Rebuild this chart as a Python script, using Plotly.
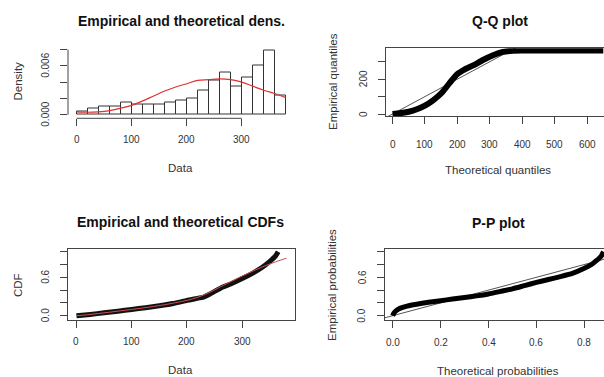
import plotly.graph_objects as go

W, H = 604, 377

# ---------------- data ----------------
bin_left = [0, 20, 40, 60, 80, 100, 120, 140, 160, 180, 200, 220, 240, 260, 280, 300, 320, 340, 360]
bin_width = 20
hist_density = [0.00045, 0.00075, 0.00095, 0.00095, 0.00145, 0.0012, 0.0012, 0.0012, 0.0015, 0.0017,
                0.0020, 0.0030, 0.0042, 0.0052, 0.0035, 0.0046, 0.0060, 0.0079, 0.0024]

dens_x = [0, 20, 40, 60, 80, 100, 120, 140, 160, 180, 200, 220, 240, 260, 280, 300, 320, 340, 360, 380]
dens_theo = [0.00035, 0.0003, 0.00035, 0.0005, 0.0008, 0.00115, 0.0017, 0.0023, 0.0029, 0.0034,
             0.0038, 0.0042, 0.0043, 0.0044, 0.0043, 0.0040, 0.0035, 0.0030, 0.0026, 0.0021]

qq_theo = [0, 22, 50, 75, 100, 126, 152, 177, 200, 223, 249, 279, 310, 340, 371, 402, 450, 500, 550, 600, 650]
qq_emp = [0, 4, 13, 27, 48, 80, 122, 180, 229, 256, 279, 310, 337, 356, 363, 364, 364, 364, 364, 364, 364]
qq_ref = [-100, 1000]

ecdf_x = [0, 25, 50, 75, 100, 125, 150, 175, 200, 215, 230, 240, 250, 265, 280, 300, 320, 335, 350, 360, 365]
ecdf_y = [0, 0.02, 0.045, 0.07, 0.098, 0.125, 0.155, 0.19, 0.24, 0.265, 0.29, 0.33, 0.38, 0.45, 0.5,
          0.58, 0.67, 0.75, 0.85, 0.93, 1.0]
tcdf_x = [0, 20, 40, 60, 80, 100, 120, 140, 160, 180, 200, 220, 240, 260, 280, 300, 320, 340, 360, 380]
tcdf_y = [0.0, 0.015, 0.035, 0.055, 0.077, 0.098, 0.12, 0.145, 0.172, 0.205, 0.24, 0.29, 0.36, 0.45,
          0.535, 0.62, 0.70, 0.775, 0.84, 0.9]

pp_theo = [0.0, 0.005, 0.015, 0.03, 0.06, 0.1, 0.15, 0.2, 0.25, 0.3, 0.35, 0.4, 0.45, 0.5, 0.55, 0.6,
           0.65, 0.7, 0.75, 0.8, 0.83, 0.85, 0.87, 0.88]
pp_emp = [0.0, 0.04, 0.08, 0.115, 0.15, 0.18, 0.21, 0.235, 0.26, 0.285, 0.31, 0.34, 0.38, 0.42, 0.47,
          0.52, 0.565, 0.61, 0.66, 0.74, 0.8, 0.86, 0.93, 1.0]
pp_ref = [-1, 2]

p1_xticks, p1_xlabels = [0, 100, 200, 300], ["0", "100", "200", "300"]
p1_yticks, p1_ylabels = [0, 0.002, 0.004, 0.006, 0.008], ["0.000", "", "", "0.006", ""]
p2_xticks, p2_xlabels = [0, 100, 200, 300, 400, 500, 600], ["0", "100", "200", "300", "400", "500", "600"]
p2_yticks, p2_ylabels = [0, 100, 200, 300], ["0", "", "200", ""]
p3_xticks, p3_xlabels = [0, 100, 200, 300], ["0", "100", "200", "300"]
p3_yticks, p3_ylabels = [0, 0.2, 0.4, 0.6, 0.8, 1.0], ["0.0", "", "", "0.6", "", ""]
p4_xticks, p4_xlabels = [0, 0.2, 0.4, 0.6, 0.8], ["0.0", "0.2", "0.4", "0.6", "0.8"]
p4_yticks, p4_ylabels = p3_yticks, p3_ylabels

# ---------------- layout helpers ----------------
def px(x):
    return x / W

def py(y):
    return 1 - y / H

FONT = "Liberation Sans, Arial, sans-serif"
TXT = "#333333"
LINE = "#444444"

fig = go.Figure()

# Panel 1: histogram + theoretical density
fig.add_trace(go.Bar(x=[b + bin_width / 2 for b in bin_left], y=hist_density, width=bin_width,
                     marker=dict(color="white", line=dict(color="#333333", width=1)),
                     xaxis="x", yaxis="y", showlegend=False))
fig.add_trace(go.Scatter(x=dens_x, y=dens_theo, mode="lines", line=dict(color="#e03030", width=1.2, shape="spline"),
                         xaxis="x", yaxis="y", showlegend=False))

# Panel 2: Q-Q
fig.add_trace(go.Scatter(x=qq_ref, y=qq_ref, mode="lines", line=dict(color="#555555", width=1),
                         xaxis="x2", yaxis="y2", showlegend=False))
fig.add_trace(go.Scatter(x=qq_theo, y=qq_emp, mode="lines", line=dict(color="black", width=6, shape="spline", smoothing=0.5),
                         xaxis="x2", yaxis="y2", showlegend=False))

# Panel 3: CDFs
fig.add_trace(go.Scatter(x=ecdf_x, y=ecdf_y, mode="lines", line=dict(color="#111111", width=5, shape="spline", smoothing=0.5),
                         xaxis="x3", yaxis="y3", showlegend=False))
fig.add_trace(go.Scatter(x=tcdf_x, y=tcdf_y, mode="lines", line=dict(color="#d05050", width=1, shape="spline"),
                         xaxis="x3", yaxis="y3", showlegend=False))

# Panel 4: P-P
fig.add_trace(go.Scatter(x=pp_ref, y=pp_ref, mode="lines", line=dict(color="#555555", width=1),
                         xaxis="x4", yaxis="y4", showlegend=False))
fig.add_trace(go.Scatter(x=pp_theo, y=pp_emp, mode="lines", line=dict(color="black", width=5, shape="spline", smoothing=0.5),
                         xaxis="x4", yaxis="y4", showlegend=False))

def axis(domain, rng, tickvals, showline, mirror, anchor):
    return dict(domain=domain, range=rng, tickvals=tickvals, ticks="outside", ticklen=7, tickwidth=1,
                tickcolor=LINE, showticklabels=False, showgrid=False, zeroline=False,
                showline=showline, mirror=mirror, linecolor=LINE, linewidth=1, anchor=anchor, fixedrange=True)

fig.update_layout(
    width=W, height=H, margin=dict(l=0, r=0, t=0, b=0),
    paper_bgcolor="white", plot_bgcolor="white", bargap=0,
    xaxis=axis([px(68), px(294)], [-15.8, 395], p1_xticks, False, False, "y"),
    yaxis=axis([py(118.3), py(44.5)], [-0.00044, 0.00861], p1_yticks, False, False, "x"),
    xaxis2=axis([px(385.8), 1.0], [-20.7, 652.2], p2_xticks, True, True, "y2"),
    yaxis2=axis([py(116.2), py(48.2)], [-12.6, 377.5], p2_yticks, True, False, "x2"),
    xaxis3=axis([px(68.3), px(295)], [-14.8, 395.5], p3_xticks, True, True, "y3"),
    yaxis3=axis([py(320), py(248.5)], [-0.067, 1.05], p3_yticks, True, True, "x3"),
    xaxis4=axis([px(384.5), 1.0], [-0.034, 0.882], p4_xticks, True, True, "y4"),
    yaxis4=axis([py(320), py(248.5)], [-0.067, 1.05], p4_yticks, True, False, "x4"),
)

# partial axis lines for the histogram panel (R style: first to last tick)
fig.add_shape(type="line", xref="x", yref="y domain", x0=p1_xticks[0], x1=p1_xticks[-1], y0=0, y1=0,
              line=dict(color=LINE, width=1))
fig.add_shape(type="line", xref="x domain", yref="y", x0=0, x1=0, y0=p1_yticks[0], y1=p1_yticks[-1],
              line=dict(color=LINE, width=1))

ann = []

def text(x, y, s, size, xref="paper", yref="paper", angle=0, bold=False, color=TXT):
    ann.append(dict(x=x, y=y, xref=xref, yref=yref, text=("<b>%s</b>" % s) if bold else s,
                    showarrow=False, xanchor="center", yanchor="middle", textangle=angle,
                    font=dict(family=FONT, size=size, color=color)))

# titles
text(px(181.5), py(20.7), "Empirical and theoretical dens.", 14, bold=True, color="#111111")
text(px(500), py(20.7), "Q-Q plot", 14, bold=True, color="#111111")
text(px(181), py(221.5), "Empirical and theoretical CDFs", 14, bold=True, color="#111111")
text(px(499), py(222.5), "P-P plot", 14, bold=True, color="#111111")

# axis titles
text(px(181), py(168), "Data", 11.5)
text(px(498), py(170), "Theoretical quantiles", 11.5)
text(px(181), py(370), "Data", 11.5)
text(px(498), py(371), "Theoretical probabilities", 11.5)
text(px(17.5), py(81), "Density", 11.5, angle=-90)
text(px(333), py(82), "Empirical quantiles", 11.5, angle=-90)
text(px(18), py(285), "CDF", 11.5, angle=-90)
text(px(332), py(285), "Empirical probabilities", 11.5, angle=-90)

# tick labels
for v, s in zip(p1_xticks, p1_xlabels):
    text(v, py(139), s, 10, xref="x")
for v, s in zip(p1_yticks, p1_ylabels):
    if s:
        text(px(46), v, s, 10, yref="y", angle=-90)
for v, s in zip(p2_xticks, p2_xlabels):
    text(v, py(144), s, 10, xref="x2")
for v, s in zip(p2_yticks, p2_ylabels):
    if s:
        text(px(363), v, s, 10, yref="y2", angle=-90)
for v, s in zip(p3_xticks, p3_xlabels):
    text(v, py(341), s, 10, xref="x3")
for v, s in zip(p3_yticks, p3_ylabels):
    if s:
        text(px(45.5), v, s, 10, yref="y3", angle=-90)
for v, s in zip(p4_xticks, p4_xlabels):
    text(v, py(342), s, 10, xref="x4")
for v, s in zip(p4_yticks, p4_ylabels):
    if s:
        text(px(362), v, s, 10, yref="y4", angle=-90)

fig.update_layout(annotations=ann)
fig.write_html("out.html")
